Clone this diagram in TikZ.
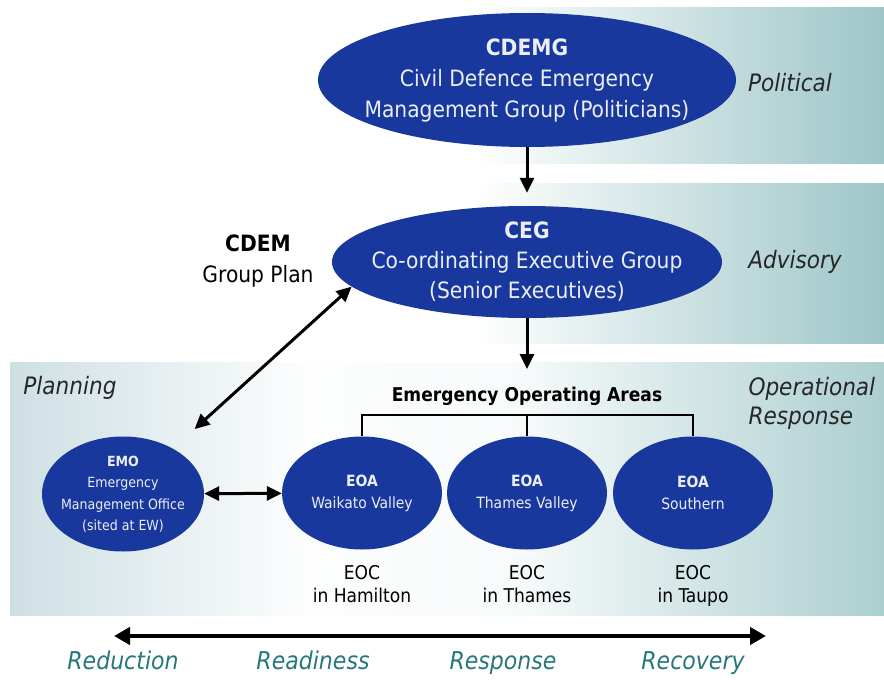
\documentclass[tikz,border=0pt]{standalone}
\usepackage{fontspec}
\setmainfont{DejaVu Sans Condensed}
\usepackage{xcolor}
\usepackage{tikz}
\usetikzlibrary{positioning,shapes.geometric,arrows.meta}

\definecolor{nodeblue}{RGB}{24,56,158}
\definecolor{nodetext}{RGB}{236,238,246}
\definecolor{bandteal}{RGB}{158,198,200}
\definecolor{bandgrey}{RGB}{206,223,228}
\definecolor{phaseteal}{RGB}{38,118,124}

\pgfdeclarehorizontalshading{levelband}{100bp}{color(0bp)=(white); color(25bp)=(white); color(38bp)=(white); color(75bp)=(bandteal); color(100bp)=(bandteal)}
\pgfdeclarehorizontalshading{workband}{100bp}{color(0bp)=(bandgrey); color(25bp)=(bandgrey); color(42bp)=(white!95!bandgrey); color(54bp)=(white!92!bandteal); color(75bp)=(bandteal!85); color(100bp)=(bandteal!85)}

\begin{document}
\begin{tikzpicture}[x=1pt,y=-1pt,
    groupnode/.style={ellipse,fill=nodeblue,text=nodetext,align=center,inner sep=-40pt},
    areanode/.style={groupnode,minimum width=160pt,minimum height=113pt,font=\fontsize{15.5}{22}\selectfont},
    levellabel/.style={font=\fontsize{24}{29}\selectfont\itshape,text=black!85,align=left},
    phaselabel/.style={font=\fontsize{24.5}{27}\selectfont\itshape,text=phaseteal,anchor=base},
    eoclabel/.style={font=\fontsize{19}{23}\selectfont,align=center,anchor=north},
    link/.style={line width=3pt,-{Triangle[length=15pt,width=14pt]}},
    twolink/.style={line width=3pt,{Triangle[length=15pt,width=14pt]}-{Triangle[length=15pt,width=14pt]}}]
    \useasboundingbox (0,0) rectangle (884,680);
    % background bands
    \shade[shading=levelband] (330,7) rectangle (884,163);
    \shade[shading=levelband] (330,183) rectangle (884,343);
    \shade[shading=workband] (10,362) rectangle (884,615);

    % groups
    \node[groupnode,minimum width=418pt,minimum height=134pt,font=\fontsize{22.5}{31}\selectfont] (cdemg) at (527,80)
        {\textbf{CDEMG}\\Civil Defence Emergency\\Management Group (Politicians)};
    \node[groupnode,minimum width=390pt,minimum height=112pt,font=\fontsize{22.5}{30}\selectfont] (ceg) at (527,262)
        {\textbf{CEG}\\Co-ordinating Executive Group\\(Senior Executives)};
    \node[areanode,minimum width=162pt,minimum height=115pt,font=\fontsize{14}{21.5}\selectfont] (emo) at (123,494)
        {\textbf{EMO}\\Emergency\\Management Office\\(sited at EW)};
    \node[areanode] (waikato) at (362,493) {\textbf{EOA}\\Waikato Valley};
    \node[areanode] (thames) at (527,493) {\textbf{EOA}\\Thames Valley};
    \node[areanode] (southern) at (693,493) {\textbf{EOA}\\Southern};

    % labels
    \node[levellabel] (political) at (790,83) {Political};
    \node[levellabel] (advisory) at (795,262) {Advisory};
    \node[levellabel] (planning) at (70,388) {Planning};
    \node[levellabel,anchor=west] (operational) at (745,403) {Operational\\Response};
    \node[font=\fontsize{22.5}{31}\selectfont,align=center] (cdem) at (258,261) {\textbf{CDEM}\\Group Plan};
    \node[font=\fontsize{19}{20}\selectfont\bfseries] (areas) at (527,396) {Emergency Operating Areas};
    \node[eoclabel] (eochamilton) at (362,562) {EOC\\in Hamilton};
    \node[eoclabel] (eocthames) at (527,562) {EOC\\in Thames};
    \node[eoclabel] (eoctaupo) at (693,562) {EOC\\in Taupo};

    % connectors
    \coordinate (bar) at (527,415);
    \coordinate (areatop) at (527,369);
    \draw[link,shorten >=13pt] (cdemg) -- (ceg);
    \draw[link] (ceg) -- (areatop);
    \draw[twolink,shorten >=29pt] (ceg.188) -- (emo);
    \draw[twolink] (emo) -- (waikato);
    \draw[line width=2.5pt] (waikato.north) |- (bar) -| (southern.north);
    \draw[line width=2.5pt] (thames.north) -- (bar);

    % phases
    \coordinate (lifeleft) at (114,636);
    \coordinate (liferight) at (766,636);
    \draw[line width=4.5pt,{Triangle[length=16pt,width=17pt]}-{Triangle[length=16pt,width=17pt]}] (lifeleft) -- (liferight);
    \node[phaselabel] (reduction) at (123,669) {Reduction};
    \node[phaselabel] (readiness) at (313,669) {Readiness};
    \node[phaselabel] (response) at (503,669) {Response};
    \node[phaselabel] (recovery) at (693,669) {Recovery};
\end{tikzpicture}
\end{document}
